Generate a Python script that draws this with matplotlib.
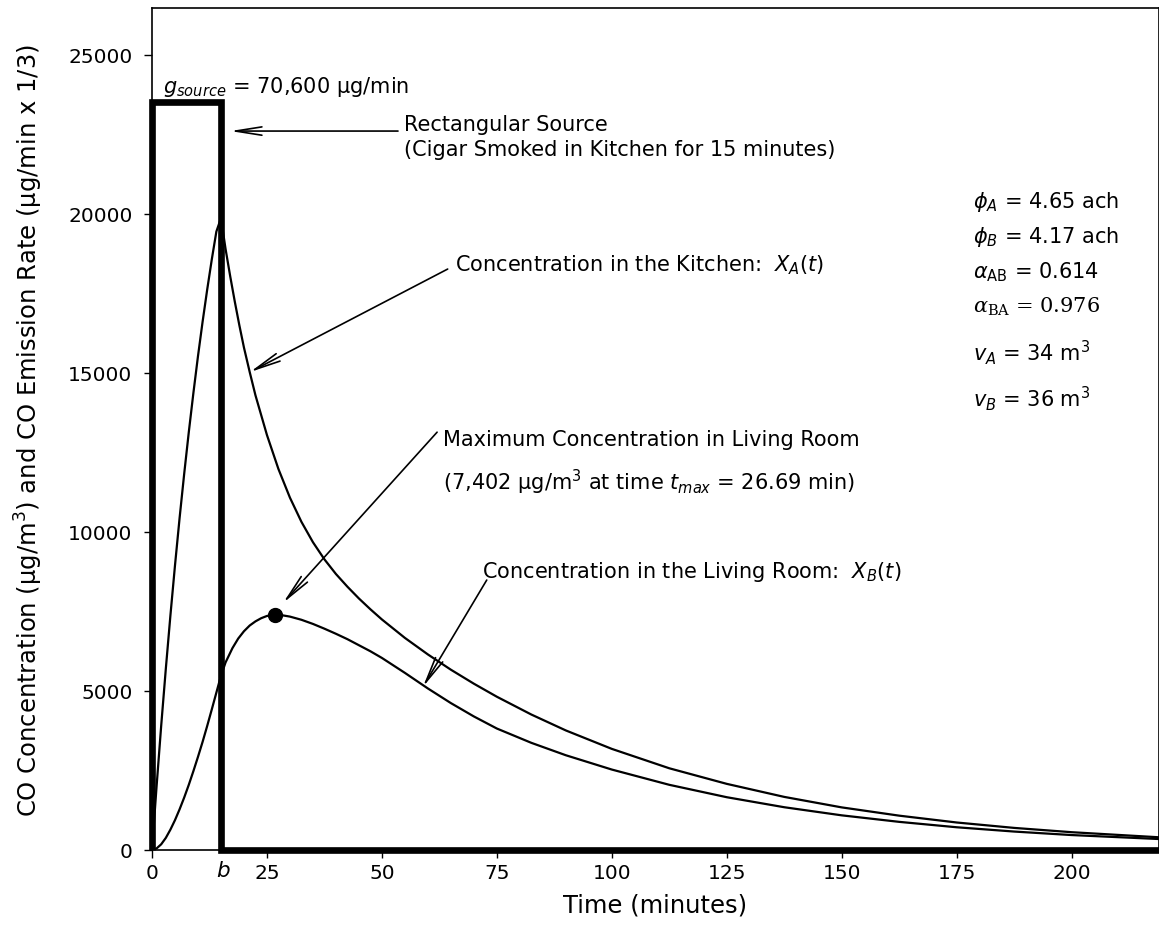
import matplotlib
matplotlib.use("Agg")
import matplotlib.pyplot as plt
import matplotlib.transforms as mtransforms

# ---------------- data ----------------
source_t = [0, 0, 15, 15, 219]
source_c = [0, 23533, 23533, 0, 0]          # 70,600 ug/min x 1/3

kitchen_t = [0, 1, 2, 3, 4, 5, 6, 7, 8, 9, 10, 11, 12, 13, 14, 15,
             16, 17, 18, 19, 20, 21.25, 22.5, 25, 27.5, 30, 32.5, 35, 37.5, 40,
             42.5, 45, 47.5, 50, 55, 60, 65, 70, 75, 82.5, 90, 100, 112.5, 125,
             137.5, 150, 162.5, 175, 187.5, 200, 219]
kitchen_c = [0, 2010, 3910, 5690, 7370, 8950, 10440, 11830, 13140, 14370, 15530,
             16610, 17620, 18570, 19450, 19870,
             18900, 18050, 17250, 16500, 15800, 15030, 14300, 13050, 11980, 11080,
             10320, 9680, 9140, 8680, 8280, 7910, 7570, 7250, 6670, 6150, 5670,
             5230, 4820, 4260, 3760, 3180, 2570, 2080, 1670, 1340, 1080, 865, 695,
             560, 400]

living_t = [0, 1, 2, 3, 4, 5, 6, 7, 8, 9, 10, 11, 12, 13, 14, 15, 16, 17.5,
            18.75, 20, 21.25, 22.5, 23.75, 25, 26.69, 28, 30, 32.5, 35, 37.5, 40,
            42.5, 45, 47.5, 50, 55, 60, 65, 70, 75, 82.5, 90, 100, 112.5, 125,
            137.5, 150, 162.5, 175, 187.5, 200, 219]
living_c = [0, 50, 180, 380, 640, 940, 1280, 1650, 2050, 2480, 2930, 3400, 3900,
            4420, 4950, 5480, 5900, 6350, 6650, 6880, 7060, 7190, 7290, 7360, 7402,
            7390, 7340, 7240, 7110, 6960, 6800, 6630, 6440, 6250, 6040, 5570, 5080,
            4620, 4200, 3820, 3370, 2980, 2530, 2050, 1660, 1345, 1090, 885, 715,
            580, 470, 345]

peak_t, peak_c = 26.69, 7402

xticks = [0, 25, 50, 75, 100, 125, 150, 175, 200]
yticks = [0, 5000, 10000, 15000, 20000, 25000]

params = [r"$\phi_A$ = 4.65 ach", r"$\phi_B$ = 4.17 ach",
          r"$\alpha_{\mathrm{AB}}$ = 0.614", r"$\alpha_{\mathrm{BA}}$ = 0.976",
          r"$v_A$ = 34 m$^3$", r"$v_B$ = 36 m$^3$"]
param_y = [20380, 19280, 18180, 17080, 15630, 14210]

# ---------------- figure ----------------
plt.rcParams['font.family'] = ['DejaVu Sans']
plt.rcParams['mathtext.fontset'] = 'dejavusans'

W, H = 1159, 941
fig = plt.figure(figsize=(W / 100, H / 100), dpi=100)
ax = fig.add_axes([152 / W, 1 - 850 / H, (1159 - 152) / W, (850 - 8) / H])

ax.set_xlim(0, 219)
ax.set_ylim(0, 26480)

ax.plot(kitchen_t, kitchen_c, color='black', lw=1.6, solid_joinstyle='round')
ax.plot(living_t, living_c, color='black', lw=1.6, solid_joinstyle='round')
ax.plot(source_t, source_c, color='black', lw=4.8, solid_joinstyle='miter',
        solid_capstyle='butt', clip_on=False, zorder=5)
ax.plot([peak_t], [peak_c], 'o', color='black', ms=10, zorder=6)

for s in ax.spines.values():
    s.set_linewidth(1.2)

ax.set_xticks(xticks)
ax.set_yticks(yticks)
ax.tick_params(direction='out', length=6, width=1.0, labelsize=14.5, pad=8)
ax.tick_params(axis='x', pad=4)

trans = mtransforms.blended_transform_factory(ax.transData, ax.transAxes)
ax.text(15.5, -0.025, r"$b$", transform=trans, ha='center', va='center', fontsize=15.5)

ax.set_xlabel("Time (minutes)", fontsize=17.5)
ax.xaxis.set_label_coords(0.5, -0.052)
ax.set_ylabel("CO Concentration (μg/m$^3$) and CO Emission Rate (μg/min x 1/3)",
              fontsize=17.5)
ax.yaxis.set_label_coords(-0.106, 0.498)

fs = 15
arrow_kw = dict(arrowstyle="->,head_length=1.9,head_width=0.3",
                lw=1.2, color='black', shrinkA=0, shrinkB=0)

ax.text(2.4, 23800, r"$g_{source}$ = 70,600 μg/min", fontsize=fs, va='baseline')

ax.text(54.8, 22800, "Rectangular Source", fontsize=fs, va='center')
ax.text(54.8, 22000, "(Cigar Smoked in Kitchen for 15 minutes)", fontsize=fs, va='center')
ax.annotate("", xy=(17.0, 22610), xytext=(53.5, 22610), arrowprops=arrow_kw)

ax.text(65.9, 18400, r"Concentration in the Kitchen:  $X_A(t)$", fontsize=fs, va='center')
ax.annotate("", xy=(21.3, 15030), xytext=(64.3, 18270), arrowprops=arrow_kw)

ax.text(63.3, 12890, "Maximum Concentration in Living Room", fontsize=fs, va='center')
ax.text(63.3, 11570, r"(7,402 μg/m$^3$ at time $t_{max}$ = 26.69 min)",
        fontsize=fs, va='center')
ax.annotate("", xy=(28.5, 7770), xytext=(62.0, 13140), arrowprops=arrow_kw)

ax.text(71.7, 8740, r"Concentration in the Living Room:  $X_B(t)$", fontsize=fs, va='center')
ax.annotate("", xy=(58.9, 5125), xytext=(72.8, 8490), arrowprops=arrow_kw)

for i, (txt, yy) in enumerate(zip(params, param_y)):
    if i == 3:
        ax.text(178.5, yy, txt, fontsize=fs, va='center', family='DejaVu Serif',
                math_fontfamily='dejavuserif')
    else:
        ax.text(178.5, yy, txt, fontsize=fs, va='center')

fig.savefig("out.png", dpi=100)
